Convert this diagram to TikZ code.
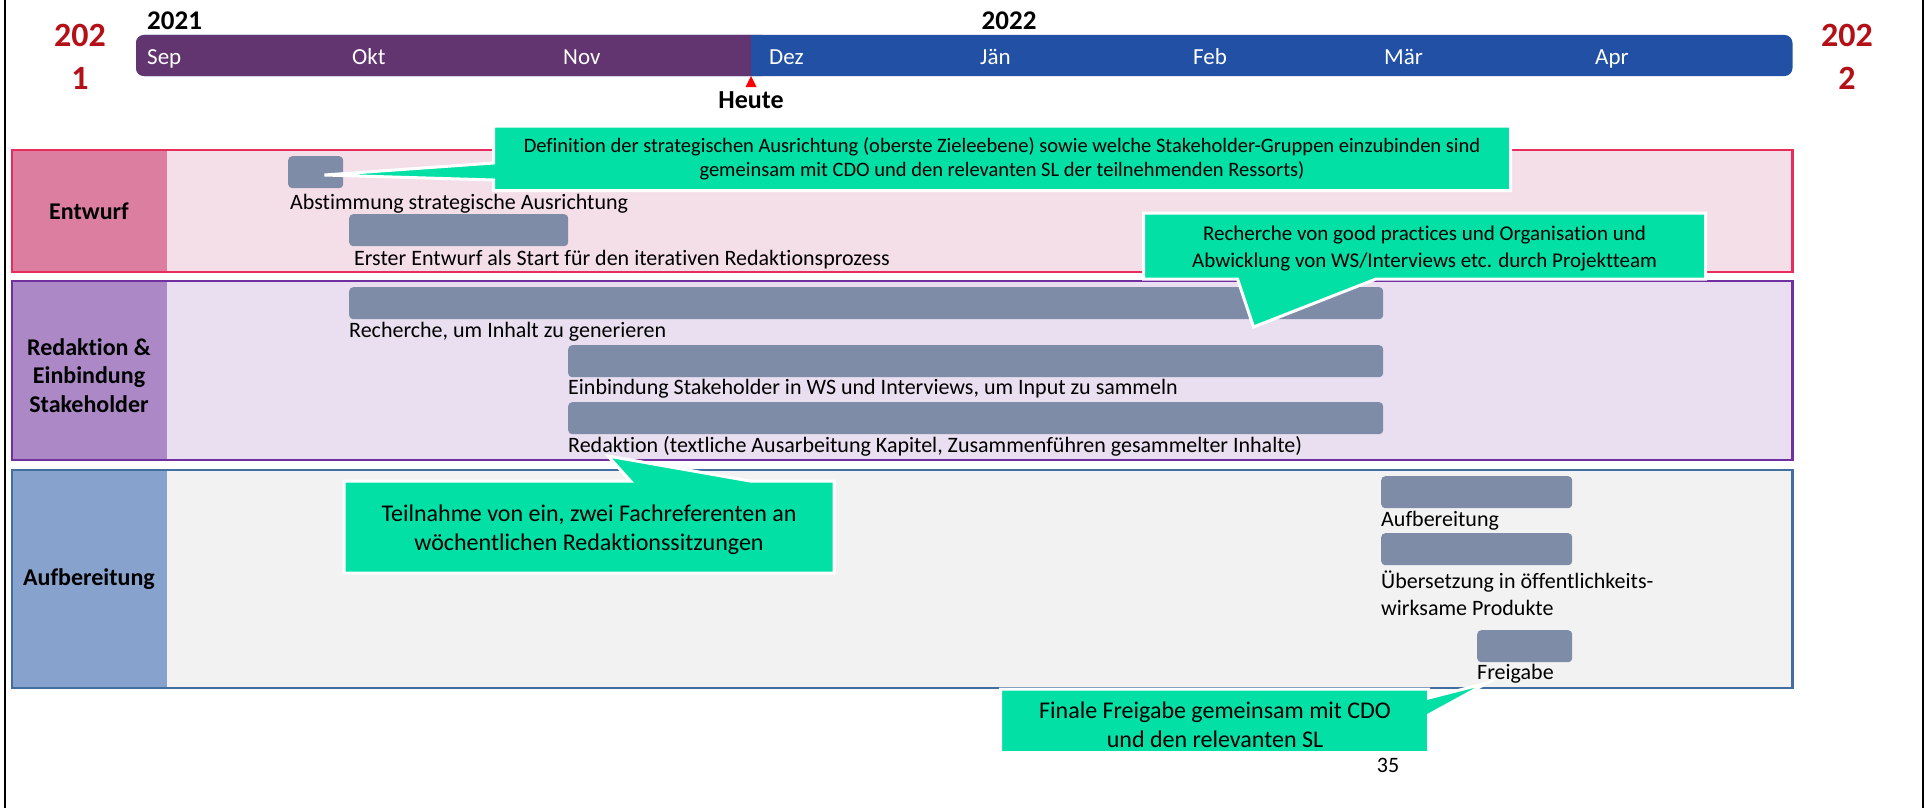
\documentclass[tikz,border=0pt]{standalone}
\usepackage{fontspec}
\setmainfont{Carlito}[Ligatures=NoCommon]
\definecolor{tlpurple}{RGB}{98,53,112}
\definecolor{tlblue}{RGB}{33,80,165}
\definecolor{yearred}{RGB}{180,16,24}
\definecolor{todayred}{RGB}{255,0,0}
\definecolor{entBorder}{RGB}{230,45,92}
\definecolor{entHead}{RGB}{220,126,160}
\definecolor{entBody}{RGB}{244,222,232}
\definecolor{redBorder}{RGB}{112,48,160}
\definecolor{redHead}{RGB}{172,136,198}
\definecolor{redBody}{RGB}{233,223,240}
\definecolor{aufBorder}{RGB}{66,110,160}
\definecolor{aufHead}{RGB}{135,162,205}
\definecolor{aufBody}{RGB}{242,242,242}
\definecolor{barfill}{RGB}{127,140,167}
\definecolor{notegreen}{RGB}{3,224,166}
\begin{document}
\begin{tikzpicture}[x=1pt,y=-1pt,
  bar/.style={fill=barfill, draw=none, rounded corners=4pt, inner sep=0pt,
    minimum height=32pt, anchor=north west},
  lbl/.style={inner sep=0pt, anchor=base west, align=left,
    font=\fontsize{22}{27}\selectfont},
  month/.style={inner sep=0pt, anchor=base west, text=white,
    font=\fontsize{23}{27}\selectfont},
  yearlbl/.style={inner sep=0pt, anchor=base west,
    font=\fontsize{27}{30}\selectfont\bfseries},
  bigyear/.style={inner sep=0pt, align=center, text=yearred,
    font=\fontsize{34}{43}\selectfont\bfseries},
  head/.style={inner sep=0pt, align=center,
    font=\fontsize{24}{28.7}\selectfont\bfseries},
  note/.style={fill=notegreen, draw=white, line width=3pt, line join=miter},
  notetext/.style={inner sep=0pt, align=center},
]
\useasboundingbox (0,0) rectangle (1927,808);

% page frame
\draw[line width=2pt] (5,0) -- (5,808);
\draw[line width=2pt] (1923,0) -- (1923,808);

% timeline bar
\fill[tlblue, rounded corners=8pt] (136,35) rectangle (1792.5,76);
\fill[tlpurple, rounded corners=8pt] (136,35) rectangle (770,76);
\fill[tlblue] (751,35) rectangle (780,76);

\node[month] (mSep) at (147,65) {Sep};
\node[month] (mOkt) at (352,65) {Okt};
\node[month] (mNov) at (563,65) {Nov};
\node[month] (mDez) at (769,65) {Dez};
\node[month] (mJan) at (980,65) {Jän};
\node[month] (mFeb) at (1193,65) {Feb};
\node[month] (mMar) at (1384,65) {Mär};
\node[month] (mApr) at (1595,65) {Apr};

\node[yearlbl] (y2021) at (147,30) {2021};
\node[yearlbl] (y2022) at (981.5,30) {2022};

\node[bigyear] (yLeft) at (80,56.5) {202\\1};
\node[bigyear] (yRight) at (1847,56.5) {202\\2};

% today marker
\fill[todayred] (751,76) -- (756.5,87) -- (745.5,87) -- cycle;
\node[inner sep=0pt, anchor=base, font=\fontsize{26}{30}\selectfont\bfseries]
  (today) at (751,108) {Heute};

% swimlanes
\fill[entBody] (12,150) rectangle (1792.5,272);
\fill[entHead] (12,150) rectangle (166.5,272);
\draw[entBorder, line width=2.5pt] (12,150) rectangle (1792.5,272);

\fill[redBody] (12,281) rectangle (1792.5,460);
\fill[redHead] (12,281) rectangle (166.5,460);
\draw[redBorder, line width=2.5pt] (12,281) rectangle (1792.5,460);

\fill[aufBody] (12,470) rectangle (1792.5,688);
\fill[aufHead] (12,470) rectangle (166.5,688);
\draw[aufBorder, line width=2.5pt] (12,470) rectangle (1792.5,688);

\node[head] (hEnt) at (89,211.5) {Entwurf};
\node[head] (hRed) at (89,375.5) {Redaktion \&\\Einbindung\\Stakeholder};
\node[head] (hAuf) at (89,579) {Aufbereitung};

% task bars
\node[bar, minimum width=55pt] (b1) at (288,156) {};
\node[bar, minimum width=219pt] (b2) at (349,214) {};
\node[bar, minimum width=1034pt] (b3) at (349,287) {};
\node[bar, minimum width=815pt] (b4) at (568,345) {};
\node[bar, minimum width=815pt] (b5) at (568,402) {};
\node[bar, minimum width=191pt] (b6) at (1381,476) {};
\node[bar, minimum width=191pt] (b7) at (1381,533) {};
\node[bar, minimum width=95pt] (b8) at (1477,630) {};

\node[lbl] (l1) at (290,209) {Abstimmung strategische Ausrichtung};
\node[lbl] (l2) at (354,265) {Erster Entwurf als Start für den iterativen Redaktionsprozess};
\node[lbl] (l3) at (349,337) {Recherche, um Inhalt zu generieren};
\node[lbl] (l4) at (568,394) {Einbindung Stakeholder in WS und Interviews, um Input zu sammeln};
\node[lbl] (l5) at (568,452) {Redaktion (textliche Ausarbeitung Kapitel, Zusammenführen gesammelter Inhalte)};
\node[lbl] (l6) at (1381,526) {Aufbereitung};
% the base anchor of a two-line label sits on its last line
\node[lbl] (l7) at (1381,615) {Übersetzung in öffentlichkeits-\\wirksame Produkte};
\node[lbl] (l8) at (1477,679) {Freigabe};

% callouts
\coordinate (tipA) at (324.5,175);
\path[note] (493.5,126) -- (1510.5,126) -- (1510.5,190.5) -- (493.5,190.5)
  -- (493.5,180) -- (tipA) -- (493.5,163) -- cycle;
\node[notetext, font=\fontsize{20.5}{24}\selectfont] (nA) at (1002,158.9)
  {Definition der strategischen Ausrichtung (oberste Zieleebene) sowie welche Stakeholder-Gruppen einzubinden sind\\
   gemeinsam mit CDO und den relevanten SL der teilnehmenden Ressorts)};

\coordinate (tipB) at (1253.5,327);
\path[note] (1143.5,213) -- (1705.5,213) -- (1705.5,279) -- (1376,279)
  -- (tipB) -- (1237.5,279) -- (1143.5,279) -- cycle;
\node[notetext, font=\fontsize{21}{27}\selectfont] (nB) at (1424.5,249)
  {Recherche von good practices und Organisation und\\
   Abwicklung von WS/Interviews etc. durch Projektteam};

\coordinate (tipC) at (608,456);
\path[note] (344,481) -- (630.5,481) -- (tipC) -- (750,481) -- (834,481)
  -- (834,573) -- (344,573) -- cycle;
\node[notetext, font=\fontsize{24}{29}\selectfont] (nC) at (589,529.8)
  {Teilnahme von ein, zwei Fachreferenten an\\
   wöchentlichen Redaktionssitzungen};

\coordinate (tipD) at (1487,683);
\path[note] (1000.5,689) -- (1428.5,689) -- (1428.5,698) -- (tipD)
  -- (1428.5,715) -- (1428.5,752.5) -- (1000.5,752.5) -- cycle;
\node[notetext, font=\fontsize{24}{28.5}\selectfont] (nD) at (1215,724.8)
  {Finale Freigabe gemeinsam mit CDO\\
   und den relevanten SL};

% page number
\node[inner sep=0pt, font=\fontsize{22}{26}\selectfont] (pgno) at (1388,765) {35};
\end{tikzpicture}
\end{document}
